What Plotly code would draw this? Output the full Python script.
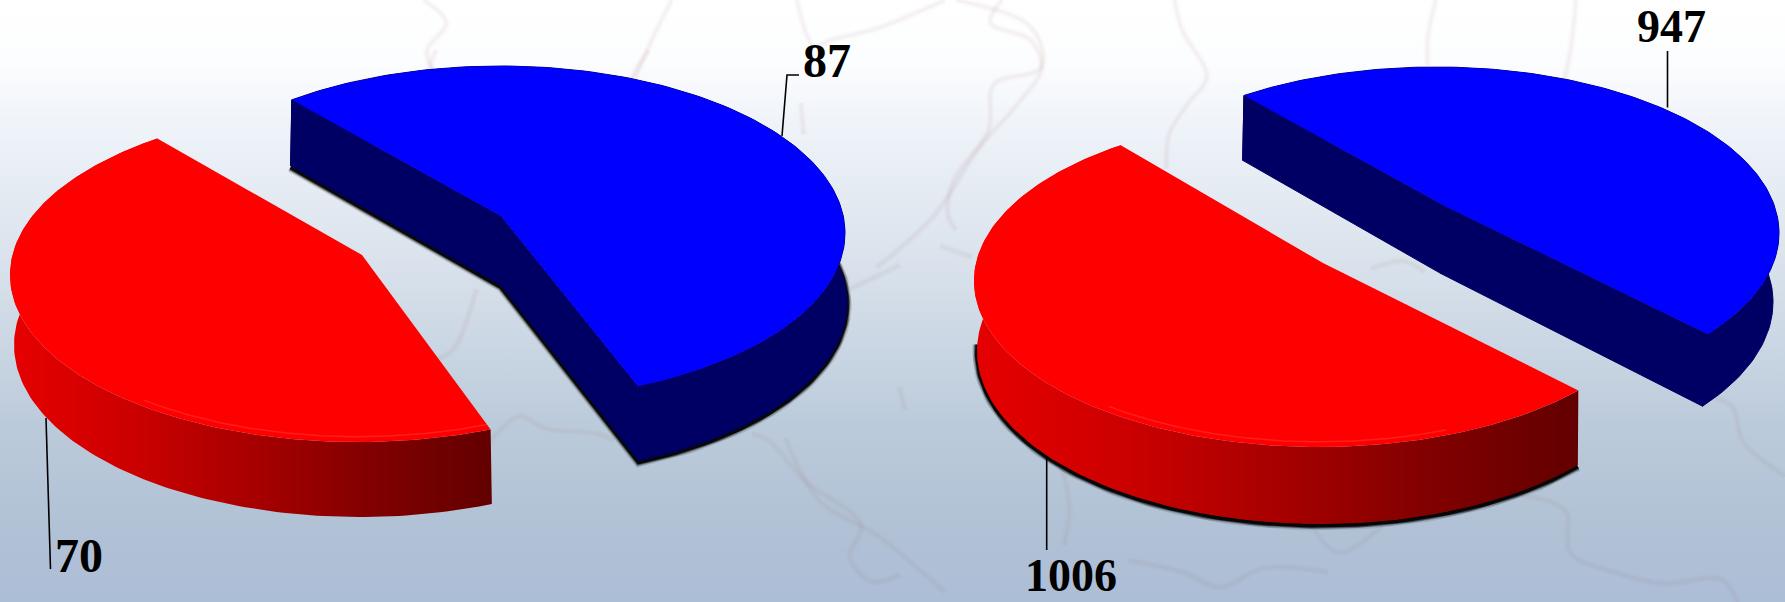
import numpy as np
import plotly.graph_objects as go

W, H = 1785, 602
categories = ["blue", "red"]
values_left = [87, 70]
values_right = [947, 1006]
label_left = ["87", "70"]
label_right = ["947", "1006"]

FONT = "Liberation Serif"
BLUE, NAVY, RED = "#0000ff", "#000064", "#ff0000"
RED_WALL = [[0, "#e60000"], [0.25, "#cc0000"], [0.5, "#a80000"], [0.75, "#820000"], [1, "#620000"]]
BG = [[0, "#ffffff"], [0.1, "#fcfdfe"], [0.2, "#f0f4fa"], [0.45, "#d8e1eb"],
      [0.7, "#bccbdb"], [0.85, "#b2c3d6"], [1, "#acbdd6"]]

# geometry of each slice: top ellipse, perspective, depth, rotation
LEFT_BLUE = dict(cx=500, cy=233, a=345, b=167, s=-0.102, apex_dx=1, dx=0, dy=70, da=2, db=5, rot=229.2, shadow=1)
LEFT_RED = dict(cx=358, cy=275, a=348, b=167, s=-0.12, apex_dx=4, dx=2, dy=70, da=-2, db=5, rot=230.6, shadow=0)
RIGHT_BLUE = dict(cx=1436, cy=233, a=343, b=166, s=-0.166, apex_dx=8, dx=-3, dy=69, da=-3, db=5, rot=230.2, shadow=0)
RIGHT_RED = dict(cx=1319, cy=281, a=345, b=166, s=-0.108, apex_dx=4, dx=1, dy=70, da=-2, db=7, rot=231.2, shadow=1)

LEADERS = [
    ([782, 787, 799], [136, 75, 75]),
    ([1667.5, 1667.5], [51, 107.5]),
    ([46, 50.5], [418, 569]),
    ([1046.7, 1046.7], [456.7, 550]),
]
LABEL_POS = [(826.5, 60, 48), (1671, 26, 46), (79, 555, 48), (1071, 575, 46)]

# faint map outlines behind the pies (left crop and right crop reading units)
MAP_LEFT = [
    [(760, 0), (750, 50), (770, 150)],
    [(1130, 0), (1100, 80), (1080, 160)],
    [(830, 680), (790, 850), (760, 880)],
    [(850, 1120), (905, 1040), (950, 1075), (1040, 1090), (1070, 1110)],
    [(1310, 1090), (1340, 1110), (1400, 1220), (1500, 1350), (1480, 1440), (1520, 1510), (1568, 1490)],
    [(1480, 680), (1568, 610)],
    [(1395, 150), (1400, 240)],
]
MAP_RIGHT = [
    [(30, 0), (160, 60), (190, 130), (185, 180), (100, 220), (90, 340), (25, 470), (15, 560), (30, 600)],
    [(435, 0), (450, 80), (495, 200), (460, 270), (425, 350), (420, 440)],
    [(920, 0), (905, 100), (905, 170)],
    [(1180, 0), (1170, 130), (1150, 260)],
    [(1420, 1030), (1470, 1060), (1490, 1150), (1568, 1240)],
    [(220, 1190), (240, 1320), (230, 1420)],
    [(350, 1460), (450, 1490), (520, 1530), (600, 1480), (720, 1490)],
    [(1080, 1290), (1160, 1330), (1170, 1440), (1250, 1490), (1340, 1520), (1450, 1510), (1480, 1568)],
    [(690, 1370), (740, 1440), (820, 1370)],
    [(800, 700), (860, 680), (900, 710)],
    [(0, 640), (60, 670)],
]
MAP_TOP = [  # whole-picture units
    [(372, 0), (392, 20), (375, 45), (385, 70)],
    [(590, 0), (575, 30), (555, 75)],
    [(700, 0), (715, 40), (730, 35), (770, 25), (830, 0)],
    [(880, 0), (870, 20), (905, 35), (915, 60), (895, 90), (860, 130), (820, 190), (770, 235)],
    [(790, 340), (795, 360)],
    [(690, 385), (720, 440), (770, 470), (830, 520)],
]


def rim(p, t0, t1, bottom=False, r=1.0, n=160):
    t = np.radians(np.linspace(t0, t1, n))
    u, v = r * np.cos(t), r * np.sin(t)
    s = p["s"]
    w = 1 + s * v
    xp = u * np.sqrt(1 - s * s) / w
    yp = (v + s) / w
    if bottom:
        return (p["cx"] + p["dx"] + (p["a"] + p["da"]) * xp,
                p["cy"] + p["dy"] + (p["b"] + p["db"]) * yp)
    return p["cx"] + p["a"] * xp, p["cy"] + p["b"] * yp


def apex(p, bottom=False):
    x = p["cx"] + p["apex_dx"]
    y = p["cy"] + p["b"] * p["s"]
    if bottom:
        x, y = x + p["dx"], p["cy"] + p["dy"] + (p["b"] + p["db"]) * p["s"]
    return x, y


def poly(xs, ys, color=None, gradient=None, edge=0):
    kw = dict(x=list(xs), y=list(ys), mode="lines", fill="toself",
              line=dict(width=edge, color=color if edge else None),
              hoverinfo="skip", showlegend=False)
    if gradient:
        kw["fillgradient"] = gradient
    else:
        kw["fillcolor"] = color
    return go.Scatter(**kw)


def path(xs, ys, color, width, shape="linear"):
    return go.Scatter(x=list(xs), y=list(ys), mode="lines", hoverinfo="skip", showlegend=False,
                      line=dict(color=color, width=width, shape=shape))


fig = go.Figure()
fig.add_trace(poly([0, W, W, 0, 0], [0, 0, H, H, 0],
                   gradient=dict(type="vertical", colorscale=BG, start=0, stop=H)))

k_over = W / 1568
map_full = [[(x * k_over, y * k_over) for x, y in l] for l in MAP_TOP]
map_full += [[(x / 1.742, 50 + y / 2.84) for x, y in l] for l in MAP_LEFT]
map_full += [[(940 + x / 1.8556, y / 2.605) for x, y in l] for l in MAP_RIGHT]
for line in map_full:
    xs, ys = zip(*line)
    fig.add_trace(path(xs, ys, "rgba(170,110,125,0.025)", 8, "spline"))
    fig.add_trace(path(xs, ys, "rgba(170,100,115,0.035)", 5, "spline"))
    fig.add_trace(path(xs, ys, "rgba(170,100,115,0.035)", 2.5, "spline"))


def draw_slice(p, t0, sweep, blue):
    t1 = t0 + sweep
    tx, ty = rim(p, t0, t1)
    bx, by = rim(p, t0, t1, True)
    ax, ay = apex(p)
    abx, aby = apex(p, True)
    if p["shadow"]:
        if blue:
            sx = [bx[0], abx] + list(bx[::-1])[:70]
            sy = [by[0], aby] + list(by[::-1])[:70]
        else:
            mask = by > p["cy"] + p["dy"] - 10
            sx, sy = bx[mask], by[mask]
        sy = [y + 1.5 for y in sy]
        for w, o in ((10, 0.1), (8, 0.2), (6, 0.45), (4, 0.9)):
            fig.add_trace(path(sx, sy, f"rgba(0,0,0,{o * p['shadow']:.3f})", w))
    wall_x = list(tx) + list(bx[::-1]) + [tx[0]]
    wall_y = list(ty) + list(by[::-1]) + [ty[0]]
    if blue:
        fig.add_trace(poly(wall_x, wall_y, NAVY, edge=1))
        fig.add_trace(poly([ax, tx[0], bx[0], abx, ax], [ay, ty[0], by[0], aby, ay], NAVY, edge=1))
        fig.add_trace(poly([ax, tx[-1], bx[-1], abx, ax], [ay, ty[-1], by[-1], aby, ay], NAVY, edge=1))
    else:
        fig.add_trace(poly(wall_x, wall_y,
                           gradient=dict(type="horizontal", colorscale=RED_WALL,
                                         start=min(wall_x), stop=max(wall_x))))
    fig.add_trace(poly(list(tx) + [ax, tx[0]], list(ty) + [ay, ty[0]], BLUE if blue else RED))
    if not blue:
        hx, hy = rim(p, max(t0, 70), min(t1, 125), r=0.975)
        fig.add_trace(path(hx, hy, "rgba(255,60,60,0.5)", 1.5))


for vals, (pb, pr) in ((values_left, (LEFT_BLUE, LEFT_RED)), (values_right, (RIGHT_BLUE, RIGHT_RED))):
    total = sum(vals)
    sweep_blue = 360 * vals[0] / total
    sweep_red = 360 * vals[1] / total
    draw_slice(pb, pb["rot"], sweep_blue, True)
    draw_slice(pr, pr["rot"] - sweep_red, sweep_red, False)

for xs, ys in LEADERS:
    fig.add_trace(path(xs, ys, "#000000", 1.6))

labels = [label_left[0], label_right[0], label_left[1], label_right[1]]
for text, (x, y, size) in zip(labels, LABEL_POS):
    fig.add_annotation(x=x, y=y, text=f"<b>{text}</b>", showarrow=False,
                       xanchor="center", yanchor="middle",
                       font=dict(family=FONT, size=size, color="#000000"))

fig.update_layout(
    width=W, height=H, margin=dict(l=0, r=0, t=0, b=0), showlegend=False,
    paper_bgcolor="#ffffff", plot_bgcolor="#ffffff",
    xaxis=dict(range=[0, W], visible=False, fixedrange=True),
    yaxis=dict(range=[H, 0], visible=False, fixedrange=True),
)
fig.write_html("out.html", config=dict(displayModeBar=False),
               post_script="document.body.style.margin='0';document.body.style.overflow='hidden';")
